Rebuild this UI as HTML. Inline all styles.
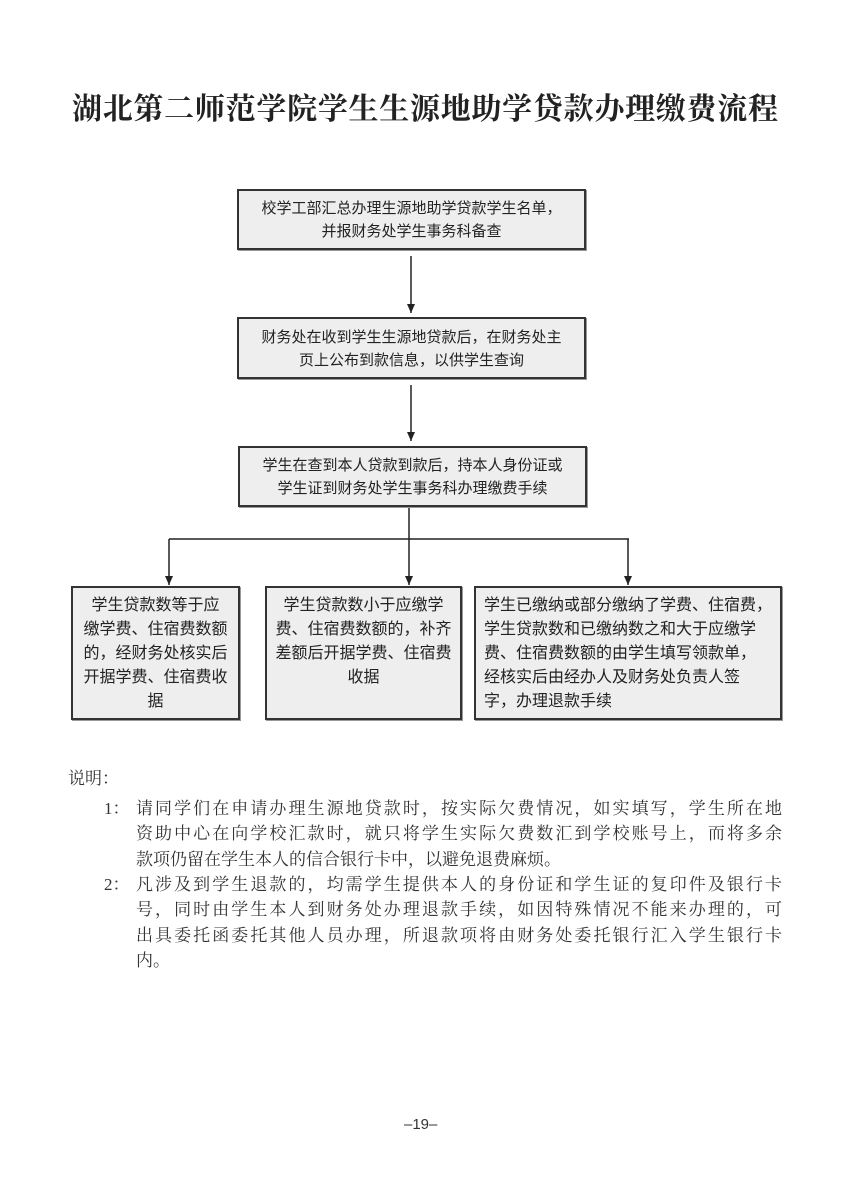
<!DOCTYPE html>
<html><head><meta charset="utf-8"><style>
body{margin:0;width:850px;height:1194px;background:#fff;position:relative;overflow:hidden;font-family:"Liberation Serif","Noto Serif CJK SC",serif;color:#222}
.t{position:absolute;left:72px;top:92px;width:706px;font-size:30px;font-weight:bold;text-align:justify;text-align-last:justify;line-height:36px;white-space:nowrap}
.b{position:absolute;box-sizing:border-box;border:2px solid #333;background:#eeeeee;box-shadow:1px 1px 0 #999;font-size:15px;line-height:23px;text-align:center;font-family:"Liberation Sans","Noto Sans CJK SC",sans-serif;white-space:nowrap}
.bb{font-size:16px;line-height:24px;padding:6px 4px;text-align:center}
.n{position:absolute;font-size:17px;line-height:25px;font-family:"Liberation Serif","Noto Serif CJK SC",serif;color:#333}
.j{display:block;width:646px;text-align:justify;text-align-last:justify;white-space:nowrap;height:25.3px}
</style></head><body>
<div class="t">湖北第二师范学院学生生源地助学贷款办理缴费流程</div>
<svg width="850" height="1194" style="position:absolute;left:0;top:0" >
<defs><marker id="a" markerWidth="9" markerHeight="8" refX="9" refY="4" orient="auto" markerUnits="userSpaceOnUse"><path d="M0,0 L9,4 L0,8z" fill="#222"/></marker></defs>
<g stroke="#222" stroke-width="1.5" fill="none">
<line x1="411" y1="256" x2="411" y2="313" marker-end="url(#a)"/>
<line x1="411" y1="385" x2="411" y2="441" marker-end="url(#a)"/>
<line x1="409" y1="507" x2="409" y2="585" marker-end="url(#a)"/>
<line x1="169" y1="539" x2="629" y2="539"/>
<line x1="169" y1="539" x2="169" y2="585" marker-end="url(#a)"/>
<line x1="628" y1="539" x2="628" y2="585" marker-end="url(#a)"/>
</g></svg>
<div class="b" style="left:237px;top:189px;width:349px;height:61px;padding-top:6px">校学工部汇总办理生源地助学贷款学生名单，<br>并报财务处学生事务科备查</div>
<div class="b" style="left:237px;top:317px;width:349px;height:62px;padding-top:7px">财务处在收到学生生源地贷款后，在财务处主<br>页上公布到款信息，以供学生查询</div>
<div class="b" style="left:238px;top:446px;width:349px;height:61px;padding-top:6px">学生在查到本人贷款到款后，持本人身份证或<br>学生证到财务处学生事务科办理缴费手续</div>
<div class="b bb" style="left:71px;top:586px;width:169px;height:134px">学生贷款数等于应<br>缴学费、住宿费数额<br>的，经财务处核实后<br>开据学费、住宿费收<br>据</div>
<div class="b bb" style="left:265px;top:586px;width:197px;height:134px">学生贷款数小于应缴学<br>费、住宿费数额的，补齐<br>差额后开据学费、住宿费<br>收据</div>
<div class="b bb" style="left:474px;top:586px;width:308px;height:134px;text-align:left;padding-left:8px">学生已缴纳或部分缴纳了学费、住宿费，<br>学生贷款数和已缴纳数之和大于应缴学<br>费、住宿费数额的由学生填写领款单，<br>经核实后由经办人及财务处负责人签<br>字，办理退款手续</div>
<div class="n" style="left:68px;top:766px">说明：</div>
<div class="n" style="left:104px;top:796px">1：</div>
<div class="n" style="left:136px;top:796px">
<span class="j">请同学们在申请办理生源地贷款时，按实际欠费情况，如实填写，学生所在地</span>
<span class="j">资助中心在向学校汇款时，就只将学生实际欠费数汇到学校账号上，而将多余</span>
<span class="j" style="text-align-last:left">款项仍留在学生本人的信合银行卡中，以避免退费麻烦。</span></div>
<div class="n" style="left:104px;top:872px">2：</div>
<div class="n" style="left:136px;top:872px">
<span class="j">凡涉及到学生退款的，均需学生提供本人的身份证和学生证的复印件及银行卡</span>
<span class="j">号，同时由学生本人到财务处办理退款手续，如因特殊情况不能来办理的，可</span>
<span class="j">出具委托函委托其他人员办理，所退款项将由财务处委托银行汇入学生银行卡</span>
<span class="j" style="text-align-last:left">内。</span></div>
<div class="n" style="left:404px;top:1112px;font-size:15px;font-family:'Liberation Sans',sans-serif">–19–</div>
</body></html>
